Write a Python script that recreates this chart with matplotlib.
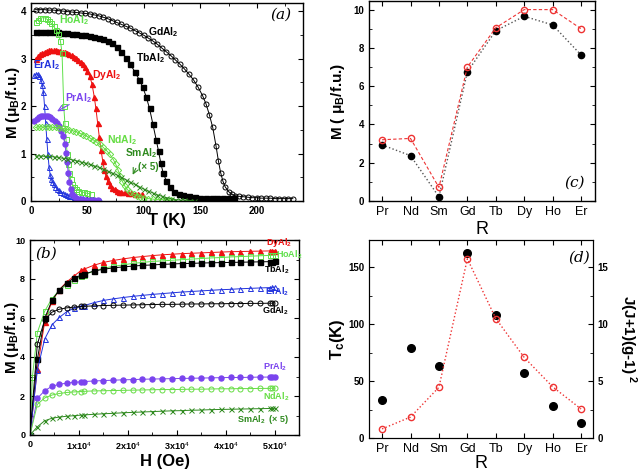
import matplotlib
matplotlib.use("Agg")
import matplotlib.pyplot as plt
from matplotlib.ticker import MultipleLocator, FixedLocator, FixedFormatter

plt.rcParams['font.family'] = ['Liberation Sans', 'DejaVu Sans']
plt.rcParams['mathtext.fontset'] = 'custom'
plt.rcParams['mathtext.rm'] = 'Liberation Sans'
plt.rcParams['mathtext.bf'] = 'Liberation Sans:bold'
plt.rcParams['mathtext.it'] = 'Liberation Sans:italic'

# ---- panel (a): M(T) ----
T_gd = [4, 8, 12, 16, 20, 24, 28, 32, 36, 40, 44, 48, 52, 56, 60, 64, 68, 72, 76, 80,
        84, 88, 92, 96, 100, 104, 108, 112, 116, 120, 124, 128, 132, 136, 140, 144, 148,
        152, 155, 158, 161, 164, 166, 168, 170, 172, 175, 178, 181, 184, 188, 192, 196,
        200, 204, 208, 212, 216, 220, 224, 228, 232]
M_gd = [4.03, 4.03, 4.03, 4.02, 4.02, 4.01, 4.0, 3.99, 3.98, 3.97, 3.96, 3.95, 3.94, 3.92,
        3.9, 3.87, 3.84, 3.8, 3.76, 3.72, 3.68, 3.64, 3.59, 3.54, 3.49, 3.43, 3.37, 3.3,
        3.22, 3.14, 3.06, 2.97, 2.88, 2.78, 2.67, 2.55, 2.4, 2.22, 2.05, 1.82, 1.55, 1.15,
        0.85, 0.6, 0.42, 0.3, 0.2, 0.14, 0.11, 0.1, 0.09, 0.08, 0.07, 0.07, 0.06, 0.06,
        0.06, 0.05, 0.05, 0.05, 0.05, 0.05]

T_tb = [4, 8, 12, 16, 20, 24, 28, 32, 36, 40, 44, 48, 52, 56, 60, 64, 68, 72, 76, 80,
        84, 88, 92, 96, 99, 102, 105, 108, 111, 113, 115, 117, 120, 123, 127, 131, 135,
        140, 145, 150, 155, 160, 165, 170, 175, 180]
M_tb = [3.55, 3.56, 3.56, 3.56, 3.56, 3.55, 3.54, 3.53, 3.52, 3.51, 3.5, 3.49, 3.48, 3.46,
        3.44, 3.41, 3.37, 3.32, 3.24, 3.14, 3.02, 2.88, 2.72, 2.55, 2.4, 2.2, 1.95, 1.62,
        1.28, 1.05, 0.8, 0.6, 0.42, 0.3, 0.2, 0.15, 0.12, 0.1, 0.08, 0.07, 0.07, 0.06,
        0.06, 0.06, 0.06, 0.06]

T_dy = [4, 6, 8, 10, 12, 14, 16, 18, 20, 22, 24, 26, 28, 30, 32, 34, 36, 38, 40, 42, 44,
        46, 48, 50, 52, 54, 56, 57.5, 59, 60.5, 62, 63.5, 65, 66.5, 68, 70, 72, 74, 76,
        78, 80, 83, 86, 89, 92, 95, 98]
M_dy = [3.0, 3.05, 3.09, 3.12, 3.14, 3.16, 3.17, 3.17, 3.17, 3.17, 3.16, 3.15, 3.14, 3.13,
        3.11, 3.09, 3.07, 3.04, 3.01, 2.97, 2.93, 2.88, 2.82, 2.74, 2.63, 2.47, 2.2, 1.95,
        1.65, 1.35, 1.08, 0.85, 0.66, 0.52, 0.42, 0.34, 0.28, 0.25, 0.22, 0.2, 0.19, 0.18,
        0.17, 0.16, 0.15, 0.15, 0.14]

T_ho = [4, 6, 8, 10, 12, 14, 16, 18, 20, 22, 24, 26, 27.5, 29, 30, 31, 32, 33, 34, 35,
        36.5, 38, 40, 42, 44, 47, 50, 53]
M_ho = [3.78, 3.82, 3.85, 3.86, 3.86, 3.83, 3.79, 3.74, 3.68, 3.61, 3.52, 3.38, 3.12, 2.0,
        1.65, 1.3, 1.0, 0.78, 0.6, 0.47, 0.36, 0.3, 0.25, 0.22, 0.2, 0.18, 0.16, 0.15]

T_er = [3, 4.5, 6, 7.5, 9, 10, 11, 12, 13, 14, 15, 16, 17, 18, 19, 20, 21.5, 23, 24.5,
        26, 28, 30, 32, 34, 36, 38, 40, 43, 46, 49, 52, 55, 58, 61]
M_er = [2.65, 2.67, 2.67, 2.63, 2.55, 2.45, 2.3, 2.0, 1.65, 1.3, 0.98, 0.72, 0.55, 0.46,
        0.4, 0.35, 0.3, 0.26, 0.23, 0.2, 0.17, 0.15, 0.13, 0.11, 0.1, 0.09, 0.08, 0.07,
        0.06, 0.05, 0.04, 0.04, 0.03, 0.03]

T_pr = [3, 5, 7, 9, 11, 13, 15, 17, 19, 21, 23, 25, 27, 28.5, 30, 31, 32, 33, 34, 35,
        36.5, 38, 40, 42, 44, 47, 50, 53, 56, 59]
M_pr = [1.68, 1.72, 1.76, 1.78, 1.79, 1.79, 1.78, 1.76, 1.73, 1.69, 1.64, 1.57, 1.47,
        1.37, 1.2, 1.02, 0.82, 0.6, 0.4, 0.26, 0.15, 0.1, 0.07, 0.05, 0.04, 0.03, 0.03,
        0.02, 0.02, 0.02]

T_nd = [4, 7, 10, 13, 16, 19, 22, 25, 28, 31, 34, 37, 40, 43, 46, 49, 52, 55, 58, 61,
        64, 67, 70, 73, 75, 77, 79, 81, 83, 85, 88, 91, 94, 97, 100, 104, 108, 112, 116,
        120, 124]
M_nd = [1.55, 1.56, 1.56, 1.56, 1.56, 1.55, 1.55, 1.54, 1.53, 1.51, 1.5, 1.48, 1.46, 1.43,
        1.4, 1.37, 1.33, 1.29, 1.24, 1.19, 1.13, 1.06, 0.98, 0.87, 0.78, 0.66, 0.53, 0.41,
        0.32, 0.25, 0.18, 0.14, 0.11, 0.09, 0.07, 0.05, 0.04, 0.03, 0.03, 0.02, 0.02]

T_sm = [4, 8, 12, 16, 20, 24, 28, 32, 36, 40, 44, 48, 52, 56, 60, 64, 68, 72, 76, 80, 84,
        88, 92, 96, 100, 104, 108, 112, 116, 120, 124, 128, 132, 136, 140, 144]
M_sm = [0.95, 0.95, 0.94, 0.94, 0.93, 0.92, 0.9, 0.89, 0.87, 0.85, 0.82, 0.8, 0.77, 0.74,
        0.71, 0.67, 0.63, 0.59, 0.55, 0.5, 0.45, 0.4, 0.35, 0.3, 0.25, 0.21, 0.17, 0.13,
        0.1, 0.07, 0.05, 0.03, 0.02, 0.02, 0.01, 0.01]

# ---- panel (b): M(H) ----
H = [0, 1500, 3000, 4500, 6000, 7500, 9000, 10500, 11000, 13000, 15000, 17000, 19000,
     21000, 23000, 25000, 27000, 29000, 31000, 33000, 35000, 37000, 39000, 41000, 43000,
     45000, 47000, 49000, 49500, 50000]
H_ho = [0, 500] + H[1:]
Mh_dy = [0, 3.4, 5.8, 6.87, 7.45, 7.85, 8.15, 8.45, 8.5, 8.7, 8.85, 8.95, 9.03, 9.1, 9.15,
         9.2, 9.24, 9.27, 9.3, 9.32, 9.34, 9.36, 9.38, 9.4, 9.41, 9.42, 9.43, 9.44, 9.45, 9.45]
Mh_ho = [0, 3.0, 5.25, 6.35, 7.0, 7.42, 7.7, 7.95, 8.15, 8.2, 8.4, 8.55, 8.65, 8.72, 8.8,
         8.85, 8.9, 8.93, 8.96, 8.99, 9.02, 9.05, 9.08, 9.1, 9.13, 9.15, 9.17, 9.19, 9.21,
         9.22, 9.23]
Mh_tb = [0, 3.88, 5.98, 6.9, 7.45, 7.8, 8.05, 8.2, 8.25, 8.4, 8.5, 8.57, 8.62, 8.66, 8.7,
         8.72, 8.75, 8.77, 8.79, 8.8, 8.82, 8.83, 8.84, 8.85, 8.86, 8.87, 8.88, 8.89, 8.89, 8.9]
Mh_er = [0, 3.33, 4.92, 5.65, 6.03, 6.32, 6.5, 6.6, 6.63, 6.78, 6.9, 6.98, 7.05, 7.11, 7.16,
         7.21, 7.25, 7.29, 7.33, 7.36, 7.39, 7.42, 7.45, 7.47, 7.5, 7.52, 7.54, 7.56, 7.57, 7.58]
Mh_gd = [0, 4.65, 5.9, 6.3, 6.45, 6.52, 6.56, 6.59, 6.6, 6.62, 6.64, 6.65, 6.66, 6.67, 6.68,
         6.69, 6.7, 6.7, 6.71, 6.72, 6.72, 6.73, 6.73, 6.74, 6.74, 6.75, 6.75, 6.76, 6.76, 6.77]
Mh_pr = [0, 1.88, 2.27, 2.5, 2.6, 2.66, 2.7, 2.73, 2.74, 2.77, 2.79, 2.81, 2.83, 2.84, 2.86,
         2.87, 2.88, 2.89, 2.9, 2.91, 2.92, 2.93, 2.94, 2.95, 2.95, 2.96, 2.97, 2.97, 2.98, 2.98]
Mh_nd = [0, 1.57, 1.9, 2.05, 2.13, 2.18, 2.21, 2.23, 2.24, 2.26, 2.27, 2.28, 2.29, 2.3, 2.31,
         2.32, 2.33, 2.33, 2.34, 2.35, 2.35, 2.36, 2.37, 2.37, 2.38, 2.38, 2.39, 2.39, 2.4, 2.4]
Mh_sm = [0, 0.42, 0.73, 0.86, 0.92, 0.96, 0.99, 1.02, 1.03, 1.06, 1.09, 1.11, 1.14, 1.16,
         1.18, 1.2, 1.22, 1.24, 1.25, 1.27, 1.28, 1.3, 1.31, 1.32, 1.33, 1.34, 1.35, 1.36,
         1.37, 1.37]

H_ticks = [10000, 20000, 30000, 40000, 50000]
H_labels = ['1x10$^4$', '2x10$^4$', '3x10$^4$', '4x10$^4$', '5x10$^4$']

# ---- panels (c), (d) ----
R = ['Pr', 'Nd', 'Sm', 'Gd', 'Tb', 'Dy', 'Ho', 'Er']
M_exp = [2.93, 2.37, 0.22, 6.75, 8.9, 9.65, 9.2, 7.63]
M_theo = [3.2, 3.27, 0.71, 7.0, 9.05, 10.0, 10.0, 9.0]
Tc = [33, 79, 63, 163, 108, 57, 28, 13]
deGennes = [0.8, 1.84, 4.46, 15.75, 10.5, 7.08, 4.5, 2.55]

c_dy = '#ee1111'
c_ho = '#5fe04a'
c_er = '#2233dd'
c_pr = '#7a44ee'
c_nd = '#66dd44'
c_sm = '#2f8a1f'
c_red = '#ee3333'

fig = plt.figure(figsize=(6.4, 4.72), dpi=100)
W, Hf = 640.0, 472.0
ax_a = fig.add_axes([31 / W, 1 - 201 / Hf, 272 / W, 198 / Hf])
ax_b = fig.add_axes([30 / W, 1 - 435 / Hf, 269 / W, 195 / Hf])
ax_c = fig.add_axes([369 / W, 1 - 201 / Hf, 226 / W, 200 / Hf])
ax_d = fig.add_axes([369 / W, 1 - 438 / Hf, 224 / W, 198 / Hf])


def style(ax, size=7):
    ax.tick_params(which='both', direction='in', top=True, right=True, labelsize=size)
    ax.tick_params(which='major', length=3.5, width=0.8)
    ax.tick_params(which='minor', length=2, width=0.6)
    for s in ax.spines.values():
        s.set_linewidth(1.0)
    for lab in ax.get_xticklabels() + ax.get_yticklabels():
        lab.set_fontweight('bold')


def sub(name):
    return name + r'Al$_\mathbf{2}$'


def place_xlabel(ax, y):
    ax.xaxis.set_label_coords(0.5, y)
    ax.xaxis.label.set_va('center')


def place_ylabel(ax, x):
    ax.yaxis.set_label_coords(x, 0.5)
    ax.yaxis.label.set_va('center')


# (a)
ms = 3.6
lw = 0.7
ax_a.plot(T_gd, M_gd, '-o', color='k', mfc='none', ms=ms, lw=lw, mew=0.7)
ax_a.plot(T_tb, M_tb, '-s', color='k', ms=ms, lw=lw)
ax_a.plot(T_dy, M_dy, '-^', color=c_dy, ms=ms, lw=lw)
ax_a.plot(T_ho, M_ho, '-s', color=c_ho, mfc='none', ms=ms, lw=lw, mew=0.7)
ax_a.plot(T_er, M_er, '-^', color=c_er, mfc='none', ms=ms, lw=lw, mew=0.7)
ax_a.plot(T_pr, M_pr, '-o', color=c_pr, ms=ms, lw=lw)
ax_a.plot(T_nd, M_nd, '-D', color=c_nd, mfc='none', ms=3.2, lw=lw, mew=0.7)
ax_a.plot(T_sm, M_sm, '-x', color=c_sm, ms=ms, lw=lw, mew=0.7)
ax_a.set_xlim(0, 241)
ax_a.set_ylim(0, 4.17)
ax_a.xaxis.set_major_locator(MultipleLocator(50))
ax_a.xaxis.set_minor_locator(MultipleLocator(25))
ax_a.yaxis.set_major_locator(MultipleLocator(1))
ax_a.yaxis.set_minor_locator(MultipleLocator(0.5))
style(ax_a)
ax_a.set_xlabel('T (K)', fontsize=12, fontweight='bold')
ax_a.set_ylabel(r'M ($\mathbf{\mu_B}$/f.u.)', fontsize=11, fontweight='bold')
place_xlabel(ax_a, -0.098)
place_ylabel(ax_a, -0.068)
fs = 7.5
ax_a.text(117, 3.55, sub('Gd'), fontsize=fs, fontweight='bold', ha='center', va='center')
ax_a.text(106, 3.01, sub('Tb'), fontsize=fs, fontweight='bold', ha='center', va='center')
ax_a.text(38, 3.8, sub('Ho'), fontsize=fs, fontweight='bold', ha='center', va='center', color=c_ho)
ax_a.text(14, 2.86, sub('Er'), fontsize=fs, fontweight='bold', ha='center', va='center', color=c_er)
ax_a.text(67, 2.65, sub('Dy'), fontsize=fs, fontweight='bold', ha='center', va='center', color=c_dy)
ax_a.text(42, 2.17, sub('Pr'), fontsize=fs, fontweight='bold', ha='center', va='center', color=c_pr)
ax_a.annotate('', xy=(21, 1.86), xytext=(36, 2.06),
              arrowprops=dict(arrowstyle='->', color=c_pr, lw=0.8))
ax_a.text(81, 1.28, sub('Nd'), fontsize=fs, fontweight='bold', ha='center', va='center', color=c_nd)
ax_a.text(98, 1.01, sub('Sm'), fontsize=fs, fontweight='bold', ha='center', va='center', color=c_sm)
ax_a.text(104, 0.72, r'(× 5)', fontsize=7, fontweight='bold', ha='center', va='center', color=c_sm)
ax_a.annotate('', xy=(89, 0.5), xytext=(94, 0.74),
              arrowprops=dict(arrowstyle='->', color=c_sm, lw=0.8))
ax_a.text(0.92, 0.94, '(a)', transform=ax_a.transAxes, fontsize=11, style='italic',
          family='DejaVu Serif', ha='center', va='center')

# (b)
ax_b.plot(H, Mh_dy, '-^', color=c_dy, ms=ms, lw=lw)
ax_b.plot(H_ho, Mh_ho, '-s', color=c_ho, mfc='none', ms=ms, lw=lw, mew=0.7)
ax_b.plot(H, Mh_tb, '-s', color='k', ms=ms, lw=lw)
ax_b.plot(H, Mh_er, '-^', color=c_er, mfc='none', ms=ms, lw=lw, mew=0.7)
ax_b.plot(H, Mh_gd, '-o', color='k', mfc='none', ms=ms, lw=lw, mew=0.7)
ax_b.plot(H, Mh_pr, '-o', color=c_pr, ms=ms, lw=lw)
ax_b.plot(H, Mh_nd, '-o', color=c_nd, mfc='none', ms=ms, lw=lw, mew=0.7)
ax_b.plot(H, Mh_sm, '-x', color=c_sm, ms=ms, lw=lw, mew=0.7)
ax_b.set_xlim(0, 55000)
ax_b.set_ylim(0, 10)
ax_b.xaxis.set_major_locator(FixedLocator([0] + H_ticks))
ax_b.xaxis.set_major_formatter(FixedFormatter(['0'] + H_labels))
ax_b.xaxis.set_minor_locator(MultipleLocator(5000))
ax_b.yaxis.set_major_locator(MultipleLocator(2))
ax_b.yaxis.set_minor_locator(MultipleLocator(1))
style(ax_b, 6.5)
ax_b.set_xlabel('H (Oe)', fontsize=12, fontweight='bold')
ax_b.set_ylabel(r'M ($\mathbf{\mu_B}$/f.u.)', fontsize=11, fontweight='bold')
place_xlabel(ax_b, -0.138)
place_ylabel(ax_b, -0.066)
fs = 6.5
ax_b.text(53500, 9.88, sub('Dy'), fontsize=fs, fontweight='bold', ha='right', va='center', color=c_dy)
ax_b.text(55600, 9.25, sub('Ho'), fontsize=fs, fontweight='bold', ha='right', va='center', color=c_ho)
ax_b.text(53000, 8.45, sub('Tb'), fontsize=fs, fontweight='bold', ha='right', va='center')
ax_b.text(53000, 7.33, sub('Er'), fontsize=fs, fontweight='bold', ha='right', va='center', color=c_er)
ax_b.text(53000, 6.35, sub('Gd'), fontsize=fs, fontweight='bold', ha='right', va='center')
ax_b.text(52500, 3.5, sub('Pr'), fontsize=fs, fontweight='bold', ha='right', va='center', color=c_pr)
ax_b.text(53000, 1.95, sub('Nd'), fontsize=fs, fontweight='bold', ha='right', va='center', color=c_nd)
ax_b.text(53000, 0.77, sub('Sm') + '  (× 5)', fontsize=fs, fontweight='bold', ha='right',
          va='center', color=c_sm)
ax_b.text(0.06, 0.93, '(b)', transform=ax_b.transAxes, fontsize=11, style='italic',
          family='DejaVu Serif', ha='center', va='center')

# (c)
xs = list(range(len(R)))
ax_c.plot(xs, M_exp, ':', color='#555555', lw=1.0, marker='o', ms=4.5, mfc='k', mec='k')
ax_c.plot(xs, M_theo, '--', color=c_red, lw=0.8, marker='o', ms=4.5, mfc='none', mec=c_red,
          mew=1.0, dashes=(3, 2))
ax_c.set_xlim(-0.46, 7.49)
ax_c.set_ylim(0, 10.45)
ax_c.set_xticks(xs)
ax_c.set_xticklabels(R)
ax_c.yaxis.set_major_locator(MultipleLocator(2))
ax_c.yaxis.set_minor_locator(MultipleLocator(1))
style(ax_c)
for lab in ax_c.get_xticklabels():
    lab.set_fontweight('normal')
    lab.set_fontsize(9)
ax_c.set_xlabel('R', fontsize=13)
ax_c.set_ylabel(r'M ( $\mathbf{\mu_B}$/f.u.)', fontsize=11, fontweight='bold')
place_xlabel(ax_c, -0.14)
place_ylabel(ax_c, -0.137)
ax_c.text(0.91, 0.09, '(c)', transform=ax_c.transAxes, fontsize=11, style='italic',
          family='DejaVu Serif', ha='center', va='center')

# (d)
ax_d.plot(xs, Tc, 'o', color='k', ms=5.5)
ax_d.set_xlim(-0.46, 7.42)
ax_d.set_ylim(0, 174)
ax_d.set_xticks(xs)
ax_d.set_xticklabels(R)
ax_d.yaxis.set_major_locator(MultipleLocator(50))
ax_d.yaxis.set_minor_locator(MultipleLocator(25))
ax_d.tick_params(which='both', direction='in', top=True, right=False, labelsize=7)
ax_d.tick_params(which='major', length=3.5, width=0.8)
ax_d.tick_params(which='minor', length=2, width=0.6)
for lab in ax_d.get_yticklabels():
    lab.set_fontweight('bold')
for lab in ax_d.get_xticklabels():
    lab.set_fontsize(9)
ax_d.set_xlabel('R', fontsize=13)
ax_d.set_ylabel(r'T$_\mathbf{c}$(K)', fontsize=12, fontweight='bold')
place_xlabel(ax_d, -0.131)
place_ylabel(ax_d, -0.142)
ax_d2 = ax_d.twinx()
ax_d2.plot(xs, deGennes, ':', color=c_red, lw=1.0, marker='o', ms=4.5, mfc='none', mec=c_red,
           mew=1.0)
ax_d2.set_ylim(0, 17.4)
ax_d2.yaxis.set_major_locator(MultipleLocator(5))
ax_d2.yaxis.set_minor_locator(MultipleLocator(2.5))
ax_d2.tick_params(which='both', direction='in', labelsize=7)
ax_d2.tick_params(which='major', length=3.5, width=0.8)
ax_d2.tick_params(which='minor', length=2, width=0.6)
for lab in ax_d2.get_yticklabels():
    lab.set_fontweight('bold')
ax_d2.set_ylabel(r'J(J+1)(g-1)$^{\ \mathbf{2}}$', fontsize=11, fontweight='bold', rotation=270)
ax_d2.yaxis.set_label_coords(1.155, 0.5)
ax_d2.yaxis.label.set_va('center')
ax_d.text(0.94, 0.91, '(d)', transform=ax_d.transAxes, fontsize=11, style='italic',
          family='DejaVu Serif', ha='center', va='center')

fig.savefig('out.png', dpi=100)
